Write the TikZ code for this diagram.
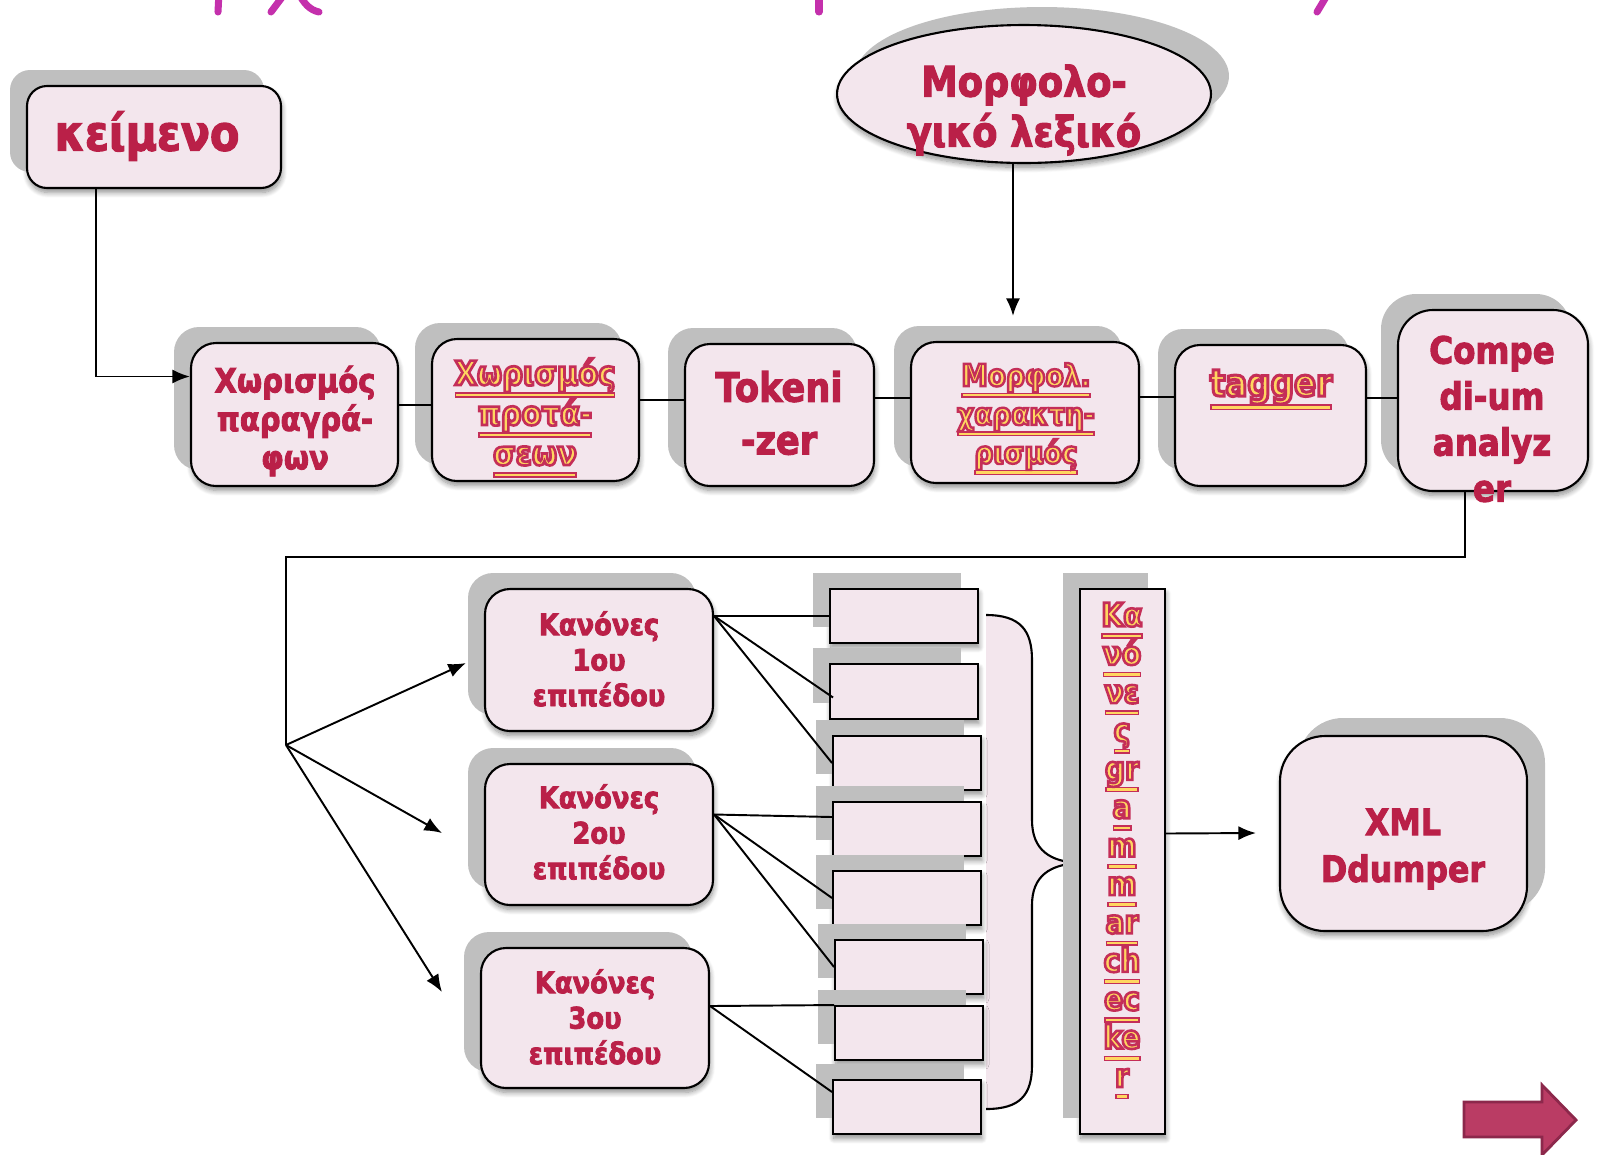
\documentclass[tikz,border=0pt]{standalone}
\usepackage{fontspec}
\setmainfont{DejaVu Sans}
% heavy, slightly narrowed face for the box labels
\newfontfamily\heavy{DejaVu Sans}[FakeStretch=0.87, BoldFeatures={FakeBold=2.6}]
% face for the hyperlink labels: the stroke gives the outline
\newfontfamily\linkface{DejaVu Sans}[FakeStretch=0.87, BoldFeatures={FakeBold=8}]
\usetikzlibrary{arrows.meta,calc,fit,shapes.geometric,shadows,shadows.blur}

\definecolor{boxfill}{RGB}{243,230,237}
\definecolor{shadowgray}{RGB}{191,191,191}
\definecolor{wine}{RGB}{186,32,72}
\definecolor{linkfill}{RGB}{255,214,96}
\definecolor{linkedge}{RGB}{196,46,88}
\definecolor{titlemag}{RGB}{196,48,172}
\definecolor{arrowfill}{RGB}{186,60,100}
\definecolor{arrowedge}{RGB}{140,40,75}

% underlined hyperlink text: yellow fill, crimson stroke, outlined underline
\newcommand\linktext[1]{%
  \setbox0\hbox{\special{pdf:bcolor [1 0.839 0.376] [0.769 0.180 0.345]}#1\special{pdf:ecolor}}%
  \rlap{\color{linkedge}\rule[-0.38em]{\wd0}{0.16em}}%
  \rlap{\hspace{0.05em}\color{linkfill}\rule[-0.34em]{\dimexpr\wd0-0.1em\relax}{0.08em}}%
  \box0}
% label fonts: size and baseline skip in pt
\newcommand\lbl[2]{\fontsize{#1}{#2}\selectfont\heavy\bfseries}
\newcommand\lnk[2]{\fontsize{#1}{#2}\selectfont\linkface\bfseries}

\tikzset{
  softshadow/.style={blur shadow={shadow xshift=0.5pt, shadow yshift=-2.5pt,
      shadow blur radius=3pt, shadow blur steps=8, shadow opacity=45}},
  ltshadow/.style={general shadow={fill=shadowgray, shadow xshift=-0.34cm, shadow yshift=0.32cm}},
  rtshadow/.style={general shadow={fill=shadowgray, shadow xshift=0.36cm, shadow yshift=0.36cm}},
  boxbase/.style={draw=black, line width=1.2pt, fill=boxfill, inner sep=0pt},
  procbox/.style={softshadow, ltshadow, boxbase, rounded corners=0.5cm},
  xmlbox/.style={softshadow, rtshadow, boxbase, rounded corners=0.9cm},
  slot/.style={softshadow, ltshadow, boxbase, line width=1.1pt},
  wtext/.style={text=wine, align=center, inner sep=0pt},
  ltext/.style={text=linkfill, align=center, inner sep=0pt},
  conn/.style={draw=black, line width=1.1pt},
  arr/.style={conn, -{Latex[length=10pt,width=8pt]}},
  titlestroke/.style={draw=titlemag, line width=4pt, line cap=round},
}

\begin{document}
\begin{tikzpicture}[x=0.02cm, y=-0.02cm]
\useasboundingbox (0,0) rectangle (1598,1154);

% fragments of the heading above the frame
\draw[titlestroke] (219,-8) -- (218,12);
\draw[titlestroke] (286,-8) -- (271,12);
\draw[titlestroke] (298,-8) .. controls (304,4) and (310,10) .. (319,12);
\draw[titlestroke] (819,-8) -- (819,12);
\draw[titlestroke] (1329,-8) -- (1317,12);

% source text and dictionary
\node[procbox, rounded corners=0.4cm, fit={(27,86)(281,188)}] (kei) {};
\node[wtext, font=\lbl{28}{32}] (keitxt) at (147,136) {κείμενο};

\node[ellipse, boxbase, softshadow, rtshadow, minimum width=7.48cm, minimum height=2.76cm] (dict) at (1024,94) {};
\node[wtext, font=\lbl{24}{28.5}] (dicttxt) at (1024,110) {Μορφολο-\\γικό λεξικό};

% processing chain
\node[procbox, fit={(191,343)(398,486)}] (b1) {};
\node[wtext, font=\lbl{19}{21.9}] (b1txt) at (295,421) {Χωρισμός\\παραγρά-\\φων};

\node[procbox, fit={(432,339)(639,481)}] (b2) {};
\node[ltext, font=\lnk{19}{22.8}] (b2txt) at (535,418)
  {\linktext{Χωρισμός}\\\linktext{προτά-}\\\linktext{σεων}};

\node[procbox, fit={(685,344)(874,486)}] (b3) {};
\node[wtext, font=\lbl{23}{30}] (b3txt) at (779,413) {Tokeni\\-zer};

\node[procbox, fit={(911,342)(1139,483)}] (b4) {};
\node[ltext, font=\lnk{17.3}{22}] (b4txt) at (1026,419)
  {\linktext{Μορφολ.}\\\linktext{χαρακτη-}\\\linktext{ρισμός}};

\node[procbox, fit={(1175,345)(1366,486)}] (b5) {};
\node[ltext, font=\lnk{21.3}{24}] (b5txt) at (1271,390) {\linktext{tagger}};

\node[procbox, rounded corners=0.7cm, fit={(1398,310)(1588,491)}] (b6) {};
\node[wtext, font=\lbl{21.3}{26.2}] (b6txt) at (1492,419) {Compe\\di-um\\analyz\\er};

% rule levels
\node[procbox, fit={(485,589)(713,731)}] (K1) {};
\node[wtext, font=\lbl{16.9}{20.2}] (K1txt) at (599,659) {Κανόνες\\1ου\\επιπέδου};
\node[procbox, fit={(485,764)(713,905)}] (K2) {};
\node[wtext, font=\lbl{16.9}{20.2}] (K2txt) at (599,832) {Κανόνες\\2ου\\επιπέδου};
\node[procbox, fit={(481,948)(709,1088)}] (K3) {};
\node[wtext, font=\lbl{16.9}{20.2}] (K3txt) at (595,1017) {Κανόνες\\3ου\\επιπέδου};

% brace gathering the rule slots
\fill[boxfill] (986,615) .. controls (1020,615) and (1032,630) .. (1032,660) -- (1032,820)
  .. controls (1032,850) and (1050,862) .. (1080,863)
  .. controls (1050,864) and (1032,876) .. (1032,905) -- (1032,1065)
  .. controls (1032,1095) and (1020,1109) .. (986,1109) -- cycle;
\draw[line width=1.2pt] (986,615) .. controls (1020,615) and (1032,630) .. (1032,660) -- (1032,820)
  .. controls (1032,850) and (1050,862) .. (1080,863)
  .. controls (1050,864) and (1032,876) .. (1032,905) -- (1032,1065)
  .. controls (1032,1095) and (1020,1109) .. (986,1109);

% rule slots
\node[slot, fit={(830,589)(978,643)}] (R1) {};
\node[slot, fit={(830,664)(978,719)}] (R2) {};
\node[slot, fit={(833,736)(981,790)}] (R3) {};
\node[slot, fit={(833,802)(981,856)}] (R4) {};
\node[slot, fit={(833,871)(981,925)}] (R5) {};
\node[slot, fit={(835,940)(983,994)}] (R6) {};
\node[slot, fit={(835,1006)(983,1060)}] (R7) {};
\node[slot, fit={(833,1080)(981,1134)}] (R8) {};

% grammar checker column
\node[slot, line width=1.2pt, fit={(1080,589)(1165,1134)}] (gram) {};
\node[ltext, font=\lnk{18.4}{21.85}] (gramtxt) at (1122,851)
  {\linktext{Κα}\\\linktext{νό}\\\linktext{νε}\\\linktext{ς}\\\linktext{gr}\\\linktext{a}\\\linktext{m}\\\linktext{m}\\\linktext{ar}\\\linktext{ch}\\\linktext{ec}\\\linktext{ke}\\\linktext{r}};

% output
\node[xmlbox, fit={(1280,736)(1527,931)}] (xml) {};
\node[wtext, font=\lbl{20.7}{26.7}] (xmltxt) at (1403,849) {XML\\Ddumper};

% connectors
\coordinate (y405) at (0,405);
\coordinate (y400) at (0,400);
\coordinate (y398) at (0,398);
\coordinate (y397) at (0,397);
\draw[arr] ($(kei.south west)+(70,0)$) |- ($(b1.west)+(0,-38)$);
\draw[arr] ($(dict.south)+(-11,0)$) -- ($(b4.north)+(-12,-25)$);
\draw[conn] (b1.east |- y405) -- (b2.west |- y405);
\draw[conn] (b2.east |- y400) -- (b3.west |- y400);
\draw[conn] (b3.east |- y398) -- (b4.west |- y398);
\draw[conn] (b4.east |- y397) -- (b5.west |- y397);
\draw[conn] (b5.east |- y398) -- (b6.west |- y398);

\coordinate (turn) at (1465,557);
\coordinate (fork) at (286,745);
\draw[conn] (b6.south -| turn) -- (turn) -- (fork |- turn) -- (fork);
\draw[arr] (fork) -- ($(K1.west)+(-18,3)$);
\draw[arr] (fork) -- ($(K2.west)+(-42,-1.5)$);
\draw[arr] (fork) -- ($(K3.west)+(-38,-26)$);

\coordinate (k1o) at (K1.east |- R1.west);
\draw[conn] (k1o) -- (R1.west);
\draw[conn] (k1o) -- ($(R2.west)+(4,6)$);
\draw[conn] (k1o) -- (R3.west);
\coordinate (k2o) at ($(K2.east)+(0,-20)$);
\draw[conn] (k2o) -- ($(R4.west)+(0,-12)$);
\draw[conn] (k2o) -- (R5.west);
\draw[conn] (k2o) -- (R6.west);
\coordinate (k3o) at ($(K3.east)+(0,-12)$);
\draw[conn] (k3o) -- (R7.north west);
\draw[conn] (k3o) -- ($(R8.west)+(0,-15)$);

\draw[arr] ($(gram.east)+(0,-28)$) -- ($(xml.west)+(-23,-0.5)$);

% next-slide arrow
\draw[fill=arrowfill, draw=arrowedge, line width=1.6pt, line join=miter]
  (1464,1102) -- (1542,1102) -- (1542,1085) -- (1576,1120) -- (1542,1155)
  -- (1542,1137) -- (1464,1137) -- cycle;
\end{tikzpicture}
\end{document}
